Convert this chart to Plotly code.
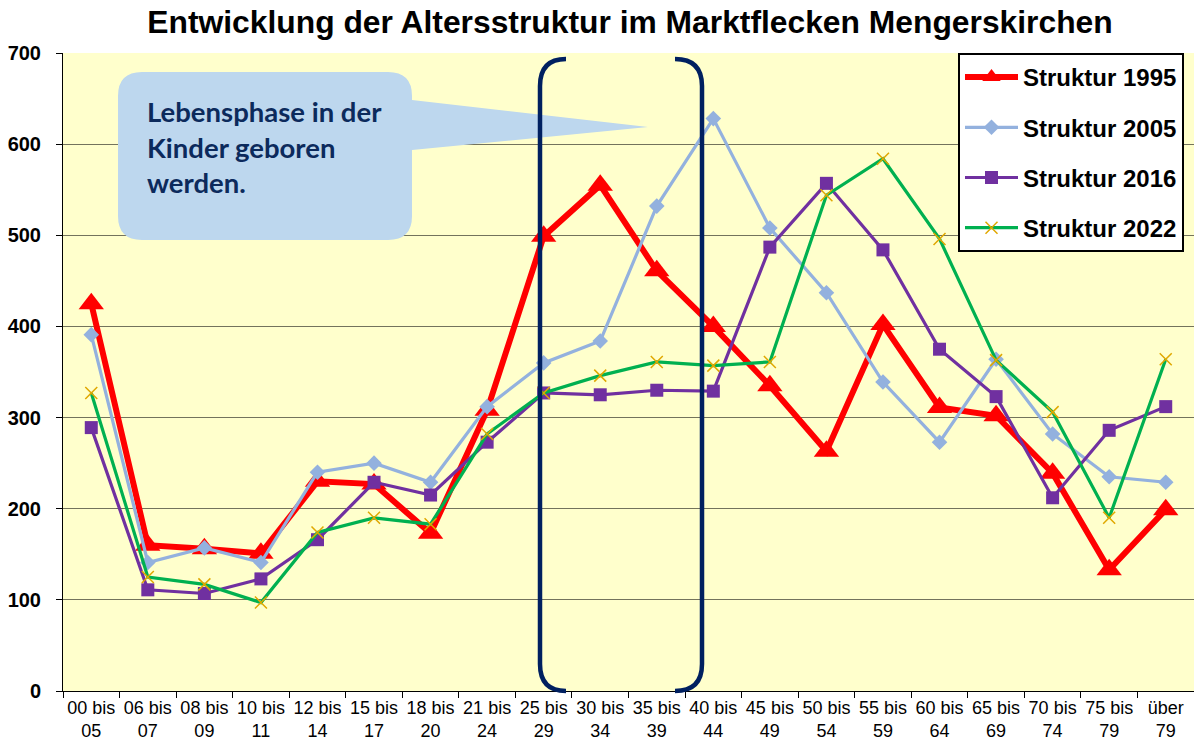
import plotly.graph_objects as go

categories = ["00 bis<br>05", "06 bis<br>07", "08 bis<br>09", "10 bis<br>11", "12 bis<br>14",
              "15 bis<br>17", "18 bis<br>20", "21 bis<br>24", "25 bis<br>29", "30 bis<br>34",
              "35 bis<br>39", "40 bis<br>44", "45 bis<br>49", "50 bis<br>54", "55 bis<br>59",
              "60 bis<br>64", "65 bis<br>69", "70 bis<br>74", "75 bis<br>79", "über<br>79"]

s1995 = [425, 160, 156, 151, 230, 227, 173, 308, 499, 555, 461, 400, 335, 263, 402, 311, 302, 239, 133, 199]
s2005 = [391, 141, 157, 141, 240, 250, 229, 312, 360, 384, 532, 628, 508, 437, 339, 273, 364, 282, 235, 229]
s2016 = [289, 111, 107, 123, 166, 229, 215, 273, 327, 325, 330, 329, 487, 557, 484, 375, 323, 212, 286, 312]
s2022 = [327, 125, 117, 97, 174, 190, 183, 282, 327, 346, 361, 357, 361, 544, 584, 496, 363, 306, 190, 364]

title = "Entwicklung der Altersstruktur im Marktflecken Mengerskirchen"
callout_lines = ["Lebensphase in der", "Kinder geboren", "werden."]

W, H = 1194, 745
L, R, T, B = 63, 0, 53, 54
PW, PH = W - L - R, H - T - B


def fx(px):
    return (px - L) / PW


def fy(py):
    return (H - B - py) / PH


def path(cmds):
    out = []
    for c in cmds:
        op = c[0]
        pts = c[1:]
        s = op
        for i in range(0, len(pts), 2):
            s += f" {fx(pts[i]):.5f},{fy(pts[i+1]):.5f}"
        out.append(s)
    return " ".join(out)


fig = go.Figure()

fig.add_trace(go.Scatter(
    x=categories, y=s1995, name="Struktur 1995", mode="lines+markers",
    line=dict(color="#FF0000", width=6),
    marker=dict(symbol="triangle-up", size=22, color="#FF0000"),
    legendgroup="a"))
fig.add_trace(go.Scatter(
    x=categories, y=s2005, name="Struktur 2005", mode="lines+markers",
    line=dict(color="#93B1DE", width=3.2),
    marker=dict(symbol="diamond", size=12, color="#93B1DE"),
    legendgroup="b"))
fig.add_trace(go.Scatter(
    x=categories, y=s2016, name="Struktur 2016", mode="lines+markers",
    line=dict(color="#7030A0", width=3.2),
    marker=dict(symbol="square", size=13, color="#7030A0"),
    legendgroup="c"))
fig.add_trace(go.Scatter(
    x=categories, y=s2022, name="Struktur 2022", mode="lines+markers",
    line=dict(color="#00B050", width=3.2),
    marker=dict(symbol="x-thin", size=12, color="#FFC000", line=dict(color="#E0A800", width=1.5)),
    legendgroup="d"))

shapes = []
# callout
r = 24
shapes.append(dict(
    type="path", xref="paper", yref="paper", layer="above",
    path=path([
        ("M", 118 + r, 72), ("L", 412 - r, 72), ("Q", 412, 72, 412, 72 + r),
        ("L", 412, 100), ("L", 648, 127), ("L", 412, 150),
        ("L", 412, 240 - r), ("Q", 412, 240, 412 - r, 240),
        ("L", 118 + r, 240), ("Q", 118, 240, 118, 240 - r),
        ("L", 118, 72 + r), ("Q", 118, 72, 118 + r, 72), ("Z",)]),
    fillcolor="#BDD7EE", line=dict(width=0)))
# brackets
br = 27
shapes.append(dict(
    type="path", xref="paper", yref="paper", layer="above",
    path=path([("M", 566, 59), ("Q", 540, 59, 540, 59 + br), ("L", 540, 691 - br),
               ("Q", 540, 691, 566, 691)]),
    line=dict(color="#002060", width=4.5)))
shapes.append(dict(
    type="path", xref="paper", yref="paper", layer="above",
    path=path([("M", 675, 59), ("Q", 702, 59, 702, 59 + br), ("L", 702, 691 - br),
               ("Q", 702, 691, 675, 691)]),
    line=dict(color="#002060", width=4.5)))

annotations = []
for i, t in enumerate(callout_lines):
    annotations.append(dict(
        text=t, xref="paper", yref="paper", x=fx(145), y=fy(111 + 36 * i),
        xanchor="left", yanchor="middle", showarrow=False,
        font=dict(family="Lato", size=27.5, color="#0C2A5C", weight="bold")))

fig.update_layout(
    width=W, height=H,
    margin=dict(l=L, r=R, t=T, b=B, autoexpand=False),
    paper_bgcolor="white", plot_bgcolor="#FFFFCC",
    title=dict(text=title, x=fx(630), xref="paper", xanchor="center",
               y=1 - 22 / H, yref="container", yanchor="middle",
               font=dict(family="Arial", size=31.8, color="black", weight="bold")),
    xaxis=dict(type="category", range=[-0.5, len(categories) - 0.5],
               showline=True, linecolor="black", linewidth=1, automargin=False,
               ticks="outside", tickson="boundaries", ticklen=6, tickcolor="black",
               showgrid=False, tickangle=0,
               tickfont=dict(family="Arial", size=18, color="black")),
    yaxis=dict(range=[0, 700], dtick=100, showline=True, linecolor="black", linewidth=1,
               ticks="outside", ticklen=6, tickcolor="black", automargin=False,
               gridcolor="rgba(0,0,0,0.55)", gridwidth=1, zeroline=False,
               ticklabelstandoff=11,
               tickfont=dict(family="Arial", size=20, color="black", weight="bold")),
    legend=dict(x=fx(958), y=1.0, xanchor="left", yanchor="top",
                bgcolor="white", bordercolor="black", borderwidth=2,
                traceorder="grouped", tracegroupgap=16, itemwidth=53,
                font=dict(family="Arial", size=24, color="black", weight="bold")),
    shapes=shapes, annotations=annotations,
)

fig.write_html("out.html", config={"displayModeBar": False},
               post_script="document.body.style.margin='0';document.body.style.padding='0';")
